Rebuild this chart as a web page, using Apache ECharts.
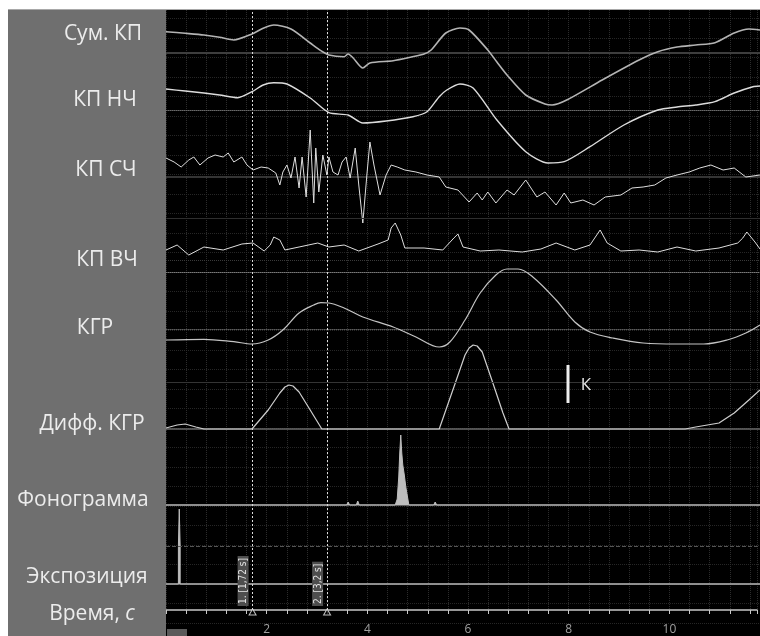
<!DOCTYPE html>
<html><head><meta charset="utf-8">
<script src="https://cdn.jsdelivr.net/npm/echarts@6/dist/echarts.min.js"></script>
<style>html,body{margin:0;padding:0;background:#fff}#c{width:760px;height:636px}</style>
</head><body><div id="c"></div>
<script>
// ---------- DATA ----------
const channelNames = ['Сум. КП','КП НЧ','КП СЧ','КП ВЧ','КГР','Дифф. КГР','Фонограмма','Экспозиция'];
const tMax = 11.74, tickStep = 0.4, labelStep = 2;
const cursorTimes = [1.72, 3.2];
const cursorLabels = ['1. [1,72 s]', '2. [3,2 s]'];

const sumKP_t = [0,0.38,0.75,1.06,1.34,1.70,1.92,2.13,2.47,2.85,3.06,3.22,3.52,3.60,3.70,3.89,4.03,4.49,4.85,5.10,5.24,5.53,5.81,5.99,6.36,6.54,6.74,7.11,7.49,7.63,7.92,8.62,9.35,9.72,10.10,10.47,10.85,11.23,11.52,11.74];
const sumKP_v = [21.3,19.7,18,15.7,13,19,24.7,28,24,10,2.3,-2,-3.7,-1,-5,-15,-10,-7.7,-4,-1,3,20,25,23,3,-9,-22,-42,-51,-52,-47,-27,-7,1.3,6,8,10.3,20,24,23];

const nch_t = [0,0.38,0.75,1.06,1.42,1.70,1.92,2.13,2.39,2.85,3.22,3.60,3.89,4.35,4.88,5.16,5.40,5.55,5.81,6.07,6.54,7.11,7.55,7.87,8.38,9.05,9.72,10.10,10.47,10.85,11.23,11.60,11.74];
const nch_v = [21,19,17,15,12.3,18.3,25,27.3,26,12,-2.7,-5,-13,-11,-6.7,-1.7,13.3,20,26,22,-10,-41.7,-53,-51.7,-36.7,-15,0,3,5,8.3,17,23.3,24];

const sch_t = [0.00,0.16,0.30,0.45,0.55,0.67,0.83,0.97,1.13,1.23,1.34,1.50,1.60,1.72,1.88,2.02,2.17,2.25,2.31,2.39,2.47,2.55,2.63,2.69,2.77,2.85,2.92,2.96,3.02,3.10,3.18,3.22,3.30,3.40,3.48,3.56,3.64,3.74,3.81,3.89,3.97,4.03,4.11,4.23,4.35,4.45,4.57,4.72,4.94,5.16,5.40,5.53,5.77,5.99,6.15,6.25,6.36,6.52,6.74,6.88,7.11,7.33,7.49,7.71,7.87,8.00,8.24,8.46,8.68,8.99,9.21,9.43,9.66,9.88,10.10,10.34,10.55,10.77,11.01,11.23,11.46,11.74];
const sch_v = [19,15,10,17,20,12,19,22,20,24,15,20,12,7,10,9,4,-8,5,12,-1,20,-11,20,-20,47,-26,29,-15,22,2,20,5,2,15,20,-1,29,-8,-46,2,35,12,-18,2,12,10,7,5,2,0,-10,-13,-25,-16,-23,-15,-26,-13,-18,-3,-20,-15,-28,-16,-26,-23,-28,-20,-18,-11,-10,-8,-1,2,5,9,12,7,9,0,2];

const vch_t = [0,0.22,0.45,0.75,1.13,1.50,1.72,1.94,2.06,2.13,2.25,2.35,2.63,3.00,3.22,3.52,3.81,4.19,4.39,4.45,4.53,4.64,4.72,5.10,5.47,5.69,5.77,5.87,6.21,6.58,7.04,7.41,7.71,8.08,8.38,8.50,8.58,8.72,8.99,9.35,9.72,10.10,10.47,10.93,11.30,11.40,11.48,11.64,11.74];
const vch_v = [22,27,17,25,22,28,29,21,27,35,32,22,25,29,25,27,21,28,32,44,49,37,24,24,22,34,38,25,21,22,20,23,29,22,27,36,42,29,21,22,20,25,21,24,29,34,40,30,23];

const kgr_t = [0,0.75,1.34,1.70,2.02,2.31,2.63,2.92,3.06,3.22,3.52,3.89,4.49,4.94,5.40,5.61,5.91,6.21,6.52,6.74,6.96,7.25,7.71,8.08,8.38,8.83,9.43,10.10,10.63,11.09,11.46,11.74];
const kgr_v = [-11,-10.3,-12.7,-15,-11,-1,16,24,26.3,26,21,12,2,-8,-18,-13,9,36,54,60,60,52,29,7,-3,-9,-14,-15,-15,-11,-4,4];

const dkgr_t = [0,0.22,0.38,0.59,0.75,1.70,2.02,2.25,2.35,2.43,2.51,2.63,2.85,3.08,5.40,5.69,5.91,5.99,6.07,6.15,6.25,6.44,6.66,6.78,10.26,10.47,10.93,11.23,11.52,11.74];
const dkgr_v = [1,4,5,2,0,0,19,36,42,44,43,37,19,0,0,42,74,81,84,83,77,49,16,0,0,2,6,16,29,39];

const phono_t = [0,1.56,1.58,1.60,3.57,3.60,3.63,3.76,3.79,3.82,4.16,4.19,4.22,4.53,4.57,4.60,4.62,4.64,4.66,4.68,4.71,4.74,4.78,4.80,5.29,5.32,5.35,6.83,6.86,6.89,11.74];
const phono_v = [0,0,1.5,0,0,3,0,0,4,0,0,2,0,0,6,28,52,70,52,40,30,18,6,0,0,3,0,0,1.5,0,0];

const expo_t = [0,0.245,0.245,0.262,0.28,0.28,11.74];
const expo_v = [0,0,38,75,38,0,0];

// ---------- LAYOUT ----------
const PL = 166;
const bands = [
  {top:10,bottom:130,ref:53},
  {top:10,bottom:180,ref:110},
  {top:120,bottom:240,ref:177},
  {top:210,bottom:290,ref:272},
  {top:260,bottom:360,ref:329},
  {top:330,bottom:440,ref:429},
  {top:430,bottom:520,ref:505},
  {top:500,bottom:600,ref:584}
];
const baseStyles = [
  {color:'#3e3e3e', width:2, type:'solid'},
  {color:'#6a6a6a', width:1, type:'dotted'},
  {color:'#464646', width:1.5, type:'solid'},
  {color:'#7a7a7a', width:1, type:'dotted'},
  {color:'#5c5c5c', width:1, type:'dotted'},
  {color:'#6a6a6a', width:1.5, type:'solid'},
  {color:'#7e7e7e', width:1.5, type:'solid'},
  {color:'#7e7e7e', width:1.5, type:'solid'}
];
const extraLines = [
  {ch:2, y:218, style:{color:'#2e2e2e', width:1, type:'solid'}},
  {ch:3, y:260, style:{color:'#3a3a3a', width:1, type:'dotted'}},
  {ch:5, y:382, style:{color:'#343434', width:1, type:'solid'}},
  {ch:7, y:546, style:{color:'#555555', width:1, type:'dashed'}}
];
const curveStyles = [
  {color:'#b4b4b4', width:1.6, smooth:0.25},
  {color:'#dcdcdc', width:1.4, smooth:0.25},
  {color:'#dedede', width:1, smooth:false},
  {color:'#dedede', width:1, smooth:false},
  {color:'#c4c4c4', width:1.2, smooth:0.35},
  {color:'#cfcfcf', width:1.2, smooth:false},
  {color:'#bdbdbd', width:1, smooth:false, area:true},
  {color:'#bdbdbd', width:1, smooth:false, area:true}
];
const labelPos = [[103,34],[105,100],[106,170],[107,260],[95,328],[92,424],[83,500],[87,577]];

const pairs = (t, v) => t.map((x, i) => [x, v[i]]);
const channelData = [
  pairs(sumKP_t, sumKP_v), pairs(nch_t, nch_v), pairs(sch_t, sch_v), pairs(vch_t, vch_v),
  pairs(kgr_t, kgr_v), pairs(dkgr_t, dkgr_v), pairs(phono_t, phono_v), pairs(expo_t, expo_v)
];

const grids = [
  {left:PL, right:0, top:623 - 19.5*31, height:19.5*31},
  {left:PL, right:0, top:10, height:613}
].concat(bands.map(b => ({left:PL, right:0, top:b.top, height:b.bottom - b.top})));

const xAxes = [
  {gridIndex:0, type:'value', min:0, max:tMax, show:false},
  {gridIndex:1, type:'value', min:0, max:tMax, interval:tickStep, position:'bottom',
    axisLine:{show:true, onZero:false, lineStyle:{color:'#c8c8c8', width:1.5}},
    axisTick:{show:true, length:4, lineStyle:{color:'#c8c8c8', width:1}},
    axisLabel:{color:'#a0a0a0', fontSize:12, margin:14, fontFamily:'Open Sans',
      formatter: v => { const k = v / labelStep; return (v > 0 && Math.abs(k - Math.round(k)) < 1e-6) ? String(Math.round(v)) : ''; }},
    splitLine:{show:true, lineStyle:{color:'#2c2c2c', type:'dotted', width:1}}}
].concat(bands.map((b, i) => ({gridIndex:2+i, type:'value', min:0, max:tMax,
    axisLine:{show:true, onZero:true, lineStyle:baseStyles[i]},
    axisTick:{show:false}, axisLabel:{show:false}, splitLine:{show:false}})));

const yAxes = [
  {gridIndex:0, type:'value', min:0, max:31, interval:1, axisLine:{show:false}, axisTick:{show:false}, axisLabel:{show:false},
    splitLine:{show:true, lineStyle:{color:'#262626', type:'dotted', width:1}}},
  {gridIndex:1, type:'value', min:0, max:1, show:false}
].concat(bands.map((b, i) => ({gridIndex:2+i, type:'value', min:b.ref - b.bottom, max:b.ref - b.top, show:false})));

const series = channelData.map((d, i) => {
  const cs = curveStyles[i];
  const s = {
    name: channelNames[i], type:'line', xAxisIndex:2+i, yAxisIndex:2+i, data:d,
    symbol:'none', showSymbol:false, smooth:cs.smooth, clip:false, silent:true, z:3,
    lineStyle:{color:cs.color, width:cs.width}
  };
  if (cs.area) s.areaStyle = {color:cs.color, opacity:1};
  const ex = extraLines.filter(e => e.ch === i);
  if (ex.length) s.markLine = {silent:true, symbol:['none','none'], label:{show:false},
    data: ex.map(e => ({yAxis: bands[i].ref - e.y, lineStyle:e.style}))};
  return s;
});

series.push({
  type:'scatter', xAxisIndex:1, yAxisIndex:1, clip:false, silent:true, z:10,
  data: cursorTimes.map(t => [t, 0]),
  symbol:'triangle', symbolSize:[7,6], symbolOffset:[0,2],
  itemStyle:{color:'#000', borderColor:'#eeeeee', borderWidth:1},
  markLine:{silent:true, symbol:['none','none'],
    lineStyle:{color:'#dcdcdc', type:[2,2], width:1},
    label:{show:true, position:'insideStartTop', distance:4, color:'#e6e6e6', fontSize:10,
      fontFamily:'DejaVu Sans Condensed', backgroundColor:'#4e4e4e', padding:[1,2,0,2]},
    data: cursorTimes.map((t, i) => ({xAxis:t, label:{formatter:cursorLabels[i]}}))}
});

const txt = (s, pos) => ({type:'text', z:101, style:{text:s, x:pos[0], y:pos[1], fill:'#ececec',
  font:'21px "Open Sans"', align:'center', verticalAlign:'middle'}});

const graphic = [
  {type:'rect', z:100, shape:{x:0,y:0,width:760,height:9}, style:{fill:'#ffffff'}},
  {type:'rect', z:100, shape:{x:0,y:0,width:8,height:636}, style:{fill:'#ffffff'}},
  {type:'line', z:100, shape:{x1:8,y1:9.5,x2:760,y2:9.5}, style:{stroke:'#a8a8a8', lineWidth:1}},
  {type:'rect', z:100, shape:{x:8,y:10,width:158,height:626}, style:{fill:'#6f6f6f'}},
  {type:'rect', z:100, shape:{x:167,y:629,width:20,height:8}, style:{fill:'#5a5a5a'}},
  {type:'rect', z:100, shape:{x:566.5,y:365,width:3,height:38}, style:{fill:'#eeeeee'}},
  {type:'text', z:101, style:{text:'К', x:586, y:385, fill:'#e6e6e6', font:'17px "Open Sans"', align:'center', verticalAlign:'middle'}}
].concat(channelNames.map((n, i) => txt(n, labelPos[i])));
graphic.push({type:'text', z:101, style:{text:'{a|Время, }{b|с}', x:92, y:614, align:'center', verticalAlign:'middle',
  rich:{a:{fill:'#ececec', fontSize:21, fontFamily:'Open Sans'}, b:{fill:'#ececec', fontSize:21, fontFamily:'Open Sans', fontStyle:'italic'}}}});

const chart = echarts.init(document.getElementById('c'));
chart.setOption({
  backgroundColor:'#000000', animation:false,
  grid:grids, xAxis:xAxes, yAxis:yAxes, series:series, graphic:graphic
});
</script>
</body></html>
